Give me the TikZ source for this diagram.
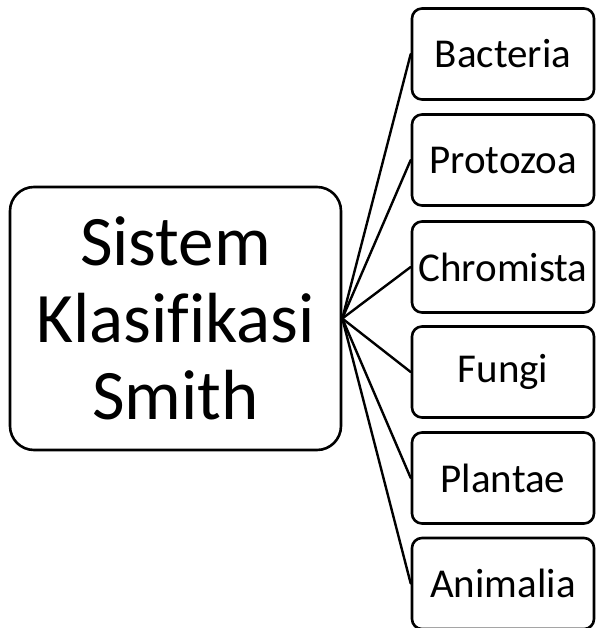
\documentclass[tikz,border=0pt]{standalone}
\usepackage{fontspec}
\setmainfont{Carlito}[Ligatures=NoCommon]
\usepackage{tikz}
\begin{document}
\begin{tikzpicture}[line cap=round,line join=round,x=1pt,y=-1pt,
  mainbox/.style={draw,line width=2.6pt,rounded corners=24pt,inner sep=0pt,minimum width=331pt,minimum height=263pt,align=center,font=\fontsize{71}{77}\selectfont},
  kingdom/.style={draw,line width=2.6pt,rounded corners=10pt,inner sep=0pt,minimum width=182pt,minimum height=91pt,font=\fontsize{41}{46}\selectfont},
  branch/.style={line width=2.4pt}]
		\useasboundingbox (0,0) rectangle (596,628);
		\node[mainbox] (smith) at (175.5,318.5) {Sistem\\Klasifikasi\\Smith};
		\node[kingdom] (bacteria) at (503,54) {Bacteria};
		\node[kingdom] (protozoa) at (503,160) {Protozoa};
		\node[kingdom] (chromista) at (503,267) {Chromista};
		\node[kingdom] (fungi) at (503,372) {Fungi};
		\node[kingdom] (plantae) at (503,478) {Plantae};
		\node[kingdom] (animalia) at (503,583.5) {Animalia};
		\foreach \k in {bacteria,protozoa,chromista,fungi,plantae,animalia}
			\draw [branch] (smith.east) -- (\k.west);
\end{tikzpicture}
\end{document}
